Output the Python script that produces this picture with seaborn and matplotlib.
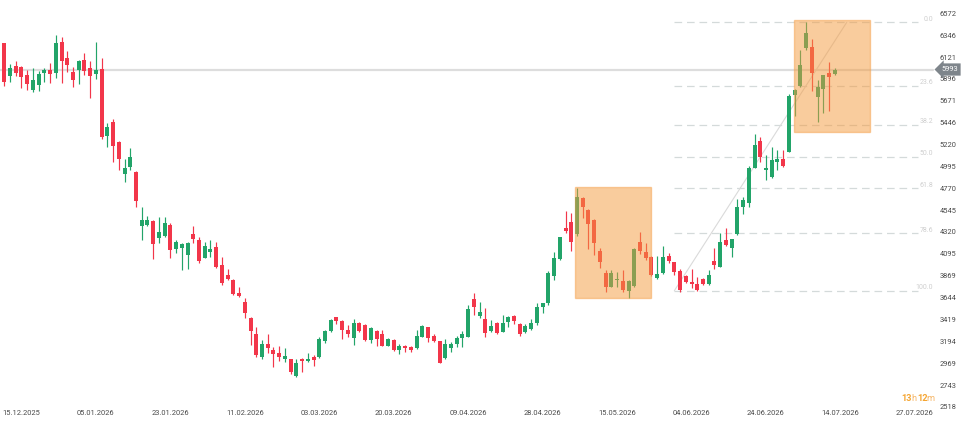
import matplotlib
matplotlib.use('Agg')
import matplotlib.pyplot as plt
import seaborn as sns
import pandas as pd

# daily candles, oldest first
opens = [6263, 5929, 6029, 6016, 5936, 5782, 5830, 5954, 5988, 5960,
         6273, 6108, 5970, 5988, 6091, 6006, 5950, 5995, 5311, 5449,
         5250, 4914, 4986, 4934, 4381, 4391, 4433, 4261, 4281, 4395,
         4144, 4158, 4083, 4299, 4237, 4055, 4110, 4168, 3979, 3876,
         3825, 3694, 3595, 3437, 3269, 3029, 3163, 3104, 3070, 3011,
         3011, 2836, 3011, 2991, 3029, 3029, 3200, 3300, 3441, 3406,
         3310, 3225, 3385, 3361, 3207, 3300, 3269, 3148, 3207, 3104,
         3145, 3138, 3121, 3241, 3338, 3248, 3197, 3019, 3121, 3166,
         3231, 3241, 3629, 3457, 3420, 3303, 3379, 3292, 3389, 3454,
         3372, 3286, 3320, 3379, 3544, 3585, 3869, 4038, 4358, 4419,
         4296, 4667, 4546, 4443, 4124, 3894, 3756, 3825, 3815, 3715,
         3763, 4213, 4110, 4065, 3849, 3894, 4072, 4007, 3918, 3869,
         3808, 3784, 3835, 3781, 4024, 3962, 4237, 4158, 4296, 4580,
         4621, 4982, 5257, 4958, 4889, 5044, 5071, 5147, 5730, 5823,
         6212, 6228, 5713, 5789, 5954, 5944]
highs = [6270, 6047, 6081, 6029, 5988, 6006, 5981, 6006, 6057, 6348,
         6331, 6184, 6022, 6091, 6160, 6081, 6273, 6108, 5445, 5480,
         5260, 5071, 5182, 4948, 4574, 4484, 4440, 4471, 4471, 4409,
         4237, 4210, 4220, 4381, 4264, 4220, 4237, 4220, 4065, 3935,
         3832, 3750, 3643, 3440, 3344, 3207, 3269, 3132, 3145, 3121,
         3015, 3008, 3019, 3070, 3052, 3241, 3310, 3423, 3447, 3413,
         3361, 3420, 3395, 3372, 3338, 3310, 3310, 3225, 3215, 3166,
         3155, 3145, 3310, 3361, 3344, 3269, 3200, 3214, 3190, 3248,
         3300, 3567, 3688, 3595, 3540, 3413, 3390, 3465, 3454, 3465,
         3385, 3372, 3423, 3585, 3591, 3921, 4117, 4271, 4536, 4518,
         4770, 4683, 4553, 4453, 4152, 3928, 3928, 3910, 3928, 3825,
         4158, 4323, 4209, 4072, 4072, 4175, 4106, 4014, 3935, 3880,
         3935, 3853, 3845, 3928, 4152, 4306, 4364, 4250, 4659, 4683,
         5002, 5326, 5301, 5112, 5198, 5164, 5164, 5738, 5789, 6194,
         6479, 6304, 5885, 5940, 6074, 6006]
lows = [5823, 5867, 5929, 5799, 5782, 5765, 5775, 5867, 5857, 5903,
        5857, 5970, 5816, 5841, 5936, 5703, 5892, 5280, 5192, 5044,
        4958, 4837, 4958, 4580, 4237, 4381, 4038, 4210, 4271, 4048,
        4100, 3928, 3935, 4203, 4003, 4048, 4065, 3945, 3774, 3830,
        3670, 3650, 3430, 3155, 3035, 3008, 3070, 2932, 2994, 2983,
        2854, 2823, 2874, 2983, 2942, 3019, 3179, 3292, 3369, 3217,
        3241, 3155, 3292, 3197, 3173, 3148, 3140, 3140, 3095, 3060,
        3086, 3086, 3114, 3235, 3183, 3190, 2967, 3008, 3080, 3138,
        3130, 3235, 3465, 3430, 3241, 3286, 3269, 3286, 3338, 3372,
        3251, 3276, 3310, 3361, 3482, 3567, 3825, 4031, 4306, 4127,
        4278, 4460, 4144, 4082, 3945, 3704, 3750, 3756, 3704, 3636,
        3750, 4093, 4031, 3869, 3832, 3884, 3997, 3877, 3704, 3791,
        3746, 3715, 3775, 3770, 3938, 3956, 4178, 4065, 4288, 4505,
        4580, 4975, 5044, 4855, 4872, 4958, 4992, 5140, 5514, 5810,
        6194, 5775, 5455, 5542, 5569, 5935]
closes = [5867, 6006, 5954, 5919, 5841, 5885, 5947, 5988, 5944, 6263,
          6081, 6036, 5885, 6081, 5981, 5929, 5988, 5301, 5404, 5208,
          5068, 4982, 5089, 4639, 4443, 4443, 4193, 4316, 4412, 4134,
          4220, 4193, 4203, 4247, 4024, 4175, 4144, 3962, 3794, 3838,
          3681, 3660, 3482, 3300, 3052, 3166, 3121, 3063, 3029, 3045,
          2874, 2967, 2994, 3011, 3001, 3217, 3300, 3413, 3406, 3310,
          3269, 3379, 3303, 3207, 3328, 3217, 3145, 3217, 3104, 3145,
          3128, 3104, 3251, 3351, 3225, 3200, 2973, 3166, 3166, 3231,
          3269, 3523, 3550, 3492, 3276, 3351, 3276, 3385, 3441, 3406,
          3266, 3351, 3385, 3544, 3585, 3894, 4048, 4265, 4333, 4220,
          4683, 4580, 4402, 4203, 4014, 3750, 3900, 3835, 3722, 3815,
          4144, 4127, 4048, 3877, 3887, 4065, 4021, 3910, 3722, 3801,
          3787, 3722, 3781, 3877, 3979, 4213, 4185, 4244, 4580, 4649,
          4975, 5216, 5095, 4982, 5061, 5071, 5002, 5720, 5782, 6040,
          6372, 5960, 5810, 5936, 5913, 5993]

price_ticks = [6572, 6346, 6121, 5896, 5671, 5446, 5220, 4995, 4770, 4545,
               4320, 4095, 3869, 3644, 3419, 3194, 2969, 2743, 2518]
date_labels = ['15.12.2025', '05.01.2026', '23.01.2026', '11.02.2026', '03.03.2026',
               '20.03.2026', '09.04.2026', '28.04.2026', '15.05.2026', '04.06.2026',
               '24.06.2026', '14.07.2026', '27.07.2026']
date_pos = [3, 16, 29, 42, 55, 68, 81, 94, 107, 120, 133, 146, 159]

last_price = 5993
fib_low, fib_high = 3715, 6479
fib_start, fib_end = 117, 159.6
fib_ratios = [0.0, 23.6, 38.2, 50.0, 61.8, 78.6, 100.0]
trend_line = ([117, 147.1], [fib_low, fib_high])
# orange zones: (x0, x1, y0, y1)
zones = [(99.65, 113.0, 3636, 4780), (137.9, 151.2, 5353, 6503)]

df = pd.DataFrame({'open': opens, 'high': highs, 'low': lows, 'close': closes})
df['idx'] = range(len(df))
df['up'] = df['close'] >= df['open']

GREEN = '#22a469'
RED = '#f2364a'

sns.set_style('white')
plt.rcParams['font.family'] = ['Roboto', 'DejaVu Sans']
plt.rcParams['lines.scale_dashes'] = False

fig = plt.figure(figsize=(9.67, 4.23), dpi=100)
ax = fig.add_axes([0, 0, 1, 1])

# current price line
ax.axhline(last_price, color='#dddddd', lw=1.6, zorder=1, xmax=0.965)

# fibonacci levels
for r in fib_ratios:
    lvl = fib_high - r / 100 * (fib_high - fib_low)
    ax.hlines(lvl, fib_start, fib_end, color='#d4dada', lw=0.9,
              linestyles=(0, (5.5, 3.5)), zorder=1)
    ax.annotate(f'{r:.1f}', xy=(0.965, lvl), xycoords=ax.get_yaxis_transform(),
                xytext=(0, 2.2), textcoords='offset points',
                ha='right', va='center', fontsize=5, color='#cfcfcf')
ax.plot(*trend_line, color='#dadada', lw=0.8, zorder=1)

# candles
colors = df['up'].map({True: GREEN, False: RED})
ax.vlines(df['idx'], df['low'], df['high'], colors=colors, lw=0.85, zorder=2)
body_lo = df[['open', 'close']].min(axis=1)
body_h = (df['close'] - df['open']).abs().clip(lower=8)
ax.bar(df['idx'], body_h, bottom=body_lo, width=0.7, color=colors,
       edgecolor='none', zorder=3)

# highlight zones
for x0, x1, y0, y1 in zones:
    ax.add_patch(plt.Rectangle((x0, y0), x1 - x0, y1 - y0, facecolor='#f49a3c',
                               alpha=0.5, edgecolor='#f5a04a', lw=1, zorder=4))

ax.set_xlim(-0.75, 168.1)
ax.set_ylim(2352, 6709)

ax.yaxis.tick_right()
ax.set_yticks(price_ticks)
ax.set_yticklabels([str(v) for v in price_ticks])
ax.tick_params(axis='y', length=0, pad=-19.5, labelsize=5.4, labelcolor='#4a4a4a')
ax.set_xticks(date_pos)
ax.set_xticklabels(date_labels)
ax.tick_params(axis='x', length=0, pad=-9.5, labelsize=5.4, labelcolor='#4a4a4a')
for s in ax.spines.values():
    s.set_visible(False)

# last price tag
ax.text(0.9735, last_price, str(last_price), transform=ax.get_yaxis_transform(),
        ha='left', va='center', fontsize=5.4, color='white', zorder=6,
        bbox=dict(boxstyle='larrow,pad=0.35', fc='#7e858b', ec='none'))

# countdown
y_cd = 1 - 398.3 / 423
for txt, xpx, bold in [('13', 901, True), ('h', 911, False), ('12', 917, True), ('m', 926.5, False)]:
    ax.text(xpx / 967, y_cd, txt, transform=ax.transAxes, fontsize=6.6,
            fontweight='bold' if bold else 'normal',
            color='#f5a531' if bold else '#f5b668', va='center')

fig.savefig('out.png', dpi=100)
